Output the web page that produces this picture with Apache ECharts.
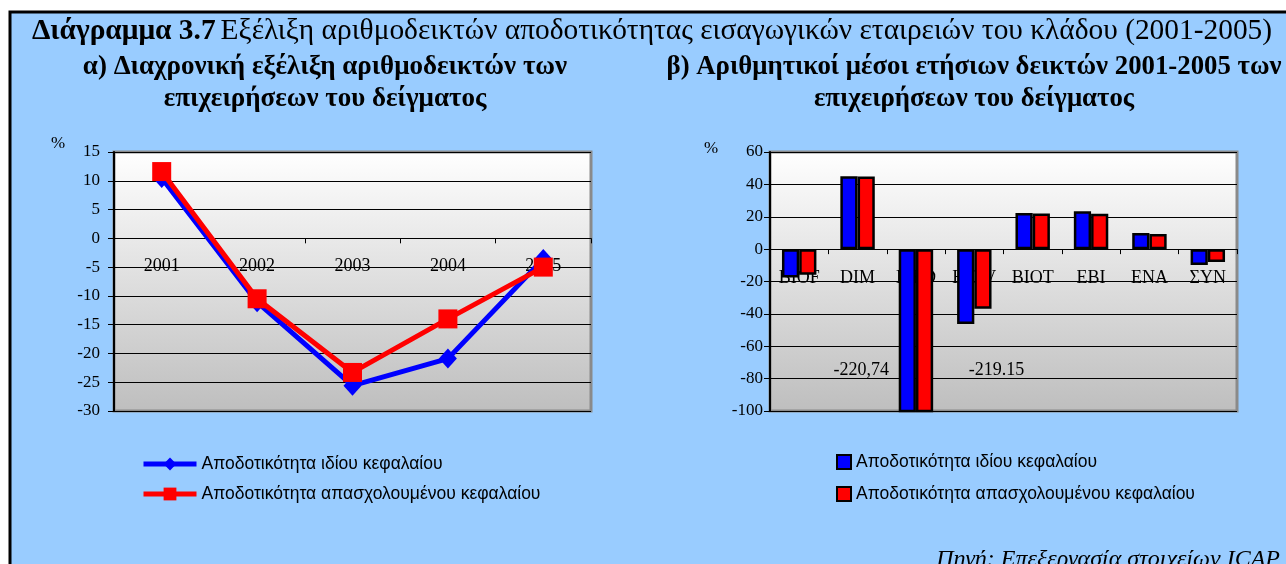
<!DOCTYPE html>
<html>
<head>
<meta charset="utf-8">
<script src="https://cdn.jsdelivr.net/npm/echarts@6/dist/echarts.min.js"></script>
<style>
  html, body { margin: 0; padding: 0; background: #ffffff; }
  #chart { width: 1286px; height: 564px; }
</style>
</head>
<body>
<div id="chart"></div>
<script>
// ---------- DATA ----------
const seriesNames = ['Αποδοτικότητα ιδίου κεφαλαίου', 'Αποδοτικότητα απασχολουμένου κεφαλαίου'];

// (α) yearly ratios, %
const years = ['2001', '2002', '2003', '2004', '2005'];
const roeYears = [10.5, -11.1, -25.6, -20.9, -3.6];
const roceYears = [11.6, -10.5, -23.3, -14.0, -5.0];
const yTicksA = { min: -30, max: 15, interval: 5 };

// (β) 2001-2005 mean ratios per company, %
const companies = ['BIOF', 'DIM', 'MED', 'BIOV', 'BIOT', 'EBI', 'ENA', 'ΣΥΝ'];
const roeCompanies = [-17.5, 45.0, -220.74, -46.2, 22.3, 23.4, 10.0, -9.8];
const roceCompanies = [-15.8, 44.8, -219.15, -36.9, 22.0, 21.8, 9.3, -8.0];
const offScaleLabels = ['-220,74', '-219.15'];   // printed values of the off-scale MED bars
const yTicksB = { min: -100, max: 60, interval: 20 };

const mainTitleBold = 'Διάγραμμα 3.7';
const mainTitleRest = 'Εξέλιξη αριθμοδεικτών αποδοτικότητας εισαγωγικών εταιρειών του κλάδου (2001-2005)';
const subTitleA = 'α) Διαχρονική εξέλιξη αριθμοδεικτών των\nεπιχειρήσεων του δείγματος';
const subTitleB = 'β) Αριθμητικοί μέσοι ετήσιων δεικτών 2001-2005 των\nεπιχειρήσεων του δείγματος';
const sourceText = 'Πηγή: Επεξεργασία στοιχείων ICAP';
const unitText = '%';

// ---------- CHART ----------
const SERIF = 'Liberation Serif, Times New Roman, serif';
const SANS = 'Liberation Sans, Arial, sans-serif';
const BLUE = '#0000ff';
const RED = '#ff0000';

const chart = echarts.init(document.getElementById('chart'));

const plotBg = new echarts.graphic.LinearGradient(0, 0, 0, 1, [
  { offset: 0, color: '#ffffff' },
  { offset: 1, color: '#bebebe' }
]);

const medIndex = companies.indexOf('MED');
function withOffLabel(values, labelText, dx) {
  return values.map((v, i) => i === medIndex ? {
    value: v,
    label: {
      show: true, position: 'inside', offset: [dx, 40],
      formatter: labelText, color: '#000', fontFamily: SERIF, fontSize: 18
    }
  } : v);
}

const yAxisCommon = {
  type: 'value',
  axisLine: { show: true, lineStyle: { color: '#000', width: 2 } },
  axisTick: { show: true, length: 6, lineStyle: { color: '#000' } },
  axisLabel: { color: '#000', fontFamily: SERIF, fontSize: 17 },
  splitLine: { show: true, lineStyle: { color: '#000', width: 1 } }
};
const xAxisCommon = {
  type: 'category',
  boundaryGap: true,
  axisLine: { show: true, onZero: true, lineStyle: { color: '#000', width: 1 } },
  axisTick: { show: true, length: 5, alignWithLabel: false, lineStyle: { color: '#000' } },
  axisLabel: { color: '#000', fontFamily: SERIF, fontSize: 18, interval: 0 },
  splitLine: { show: false }
};

const option = {
  backgroundColor: '#ffffff',
  animation: false,
  graphic: [{
    type: 'rect', z: -10, silent: true,
    shape: { x: 10, y: 12, width: 1300, height: 600 },
    style: { fill: '#99ccff', stroke: '#000', lineWidth: 3 }
  }],
  title: [
    {
      text: '{b|' + mainTitleBold + '} {r|' + mainTitleRest + '}',
      left: 652, top: 17, textAlign: 'center', padding: 0,
      textStyle: {
        rich: {
          b: { fontFamily: SERIF, fontSize: 29.4, fontWeight: 'bold', color: '#000' },
          r: { fontFamily: SERIF, fontSize: 29.4, fontWeight: 'normal', color: '#000' }
        }
      }
    },
    {
      text: subTitleA, left: 325, top: 51, textAlign: 'center', padding: 0,
      textStyle: { fontFamily: SERIF, fontSize: 27, fontWeight: 'bold', color: '#000', lineHeight: 32 }
    },
    {
      text: subTitleB, left: 974, top: 51, textAlign: 'center', padding: 0,
      textStyle: { fontFamily: SERIF, fontSize: 26.8, fontWeight: 'bold', color: '#000', lineHeight: 32 }
    },
    {
      text: unitText, left: 58, top: 135, textAlign: 'center', padding: 0,
      textStyle: { fontFamily: SERIF, fontSize: 17, fontWeight: 'normal', color: '#000' }
    },
    {
      text: unitText, left: 711, top: 140, textAlign: 'center', padding: 0,
      textStyle: { fontFamily: SERIF, fontSize: 17, fontWeight: 'normal', color: '#000' }
    },
    {
      text: sourceText, right: 6, top: 548, padding: 0,
      textStyle: { fontFamily: SERIF, fontSize: 24, fontStyle: 'italic', fontWeight: 'normal', color: '#000' }
    }
  ],
  grid: [
    { left: 114, top: 152, width: 477, height: 259, show: true,
      backgroundColor: plotBg, borderColor: '#8a8a8a', borderWidth: 3 },
    { left: 770, top: 152, width: 467, height: 259, show: true,
      backgroundColor: plotBg, borderColor: '#8a8a8a', borderWidth: 3 }
  ],
  xAxis: [
    Object.assign({}, xAxisCommon, { gridIndex: 0, data: years,
      axisLabel: Object.assign({}, xAxisCommon.axisLabel, { margin: -154 }) }),
    Object.assign({}, xAxisCommon, { gridIndex: 1, data: companies,
      axisLabel: Object.assign({}, xAxisCommon.axisLabel, { margin: -142 }) })
  ],
  yAxis: [
    Object.assign({}, yAxisCommon, { gridIndex: 0, min: yTicksA.min, max: yTicksA.max, interval: yTicksA.interval,
      axisLabel: Object.assign({}, yAxisCommon.axisLabel, { margin: 14 }) }),
    Object.assign({}, yAxisCommon, { gridIndex: 1, min: yTicksB.min, max: yTicksB.max, interval: yTicksB.interval,
      axisLabel: Object.assign({}, yAxisCommon.axisLabel, { margin: 7 }) })
  ],
  legend: [
    {
      data: ['a:' + seriesNames[0], 'a:' + seriesNames[1]],
      orient: 'vertical', left: 141, top: 455, padding: 0,
      itemWidth: 53, itemHeight: 16, itemGap: 12,
      lineStyle: { width: 5 },
      formatter: n => n.slice(2),
      textStyle: { fontFamily: SANS, fontSize: 17.5, color: '#000', lineHeight: 16 }
    },
    {
      data: ['b:' + seriesNames[0], 'b:' + seriesNames[1]],
      orient: 'vertical', left: 836, top: 453, padding: 0,
      itemWidth: 14, itemHeight: 14, itemGap: 14, icon: 'rect',
      formatter: n => n.slice(2),
      textStyle: { fontFamily: SANS, fontSize: 17.5, color: '#000', lineHeight: 16 }
    }
  ],
  series: [
    {
      name: 'a:' + seriesNames[0], type: 'line', xAxisIndex: 0, yAxisIndex: 0,
      data: roeYears, symbol: 'diamond', symbolSize: [18, 20],
      lineStyle: { color: BLUE, width: 5 }, itemStyle: { color: BLUE }, z: 3
    },
    {
      name: 'a:' + seriesNames[1], type: 'line', xAxisIndex: 0, yAxisIndex: 0,
      data: roceYears, symbol: 'rect', symbolSize: 19,
      lineStyle: { color: RED, width: 5 }, itemStyle: { color: RED }, z: 4
    },
    {
      name: 'b:' + seriesNames[0], type: 'bar', xAxisIndex: 1, yAxisIndex: 1,
      data: withOffLabel(roeCompanies, offScaleLabels[0], -46),
      barGap: '0%', barCategoryGap: '41%', clip: true,
      itemStyle: { color: BLUE, borderColor: '#000', borderWidth: 2.5 }
    },
    {
      name: 'b:' + seriesNames[1], type: 'bar', xAxisIndex: 1, yAxisIndex: 1,
      data: withOffLabel(roceCompanies, offScaleLabels[1], 72),
      barGap: '0%', barCategoryGap: '41%', clip: true,
      itemStyle: { color: RED, borderColor: '#000', borderWidth: 2.5 }
    }
  ]
};
chart.setOption(option);
</script>
</body>
</html>
